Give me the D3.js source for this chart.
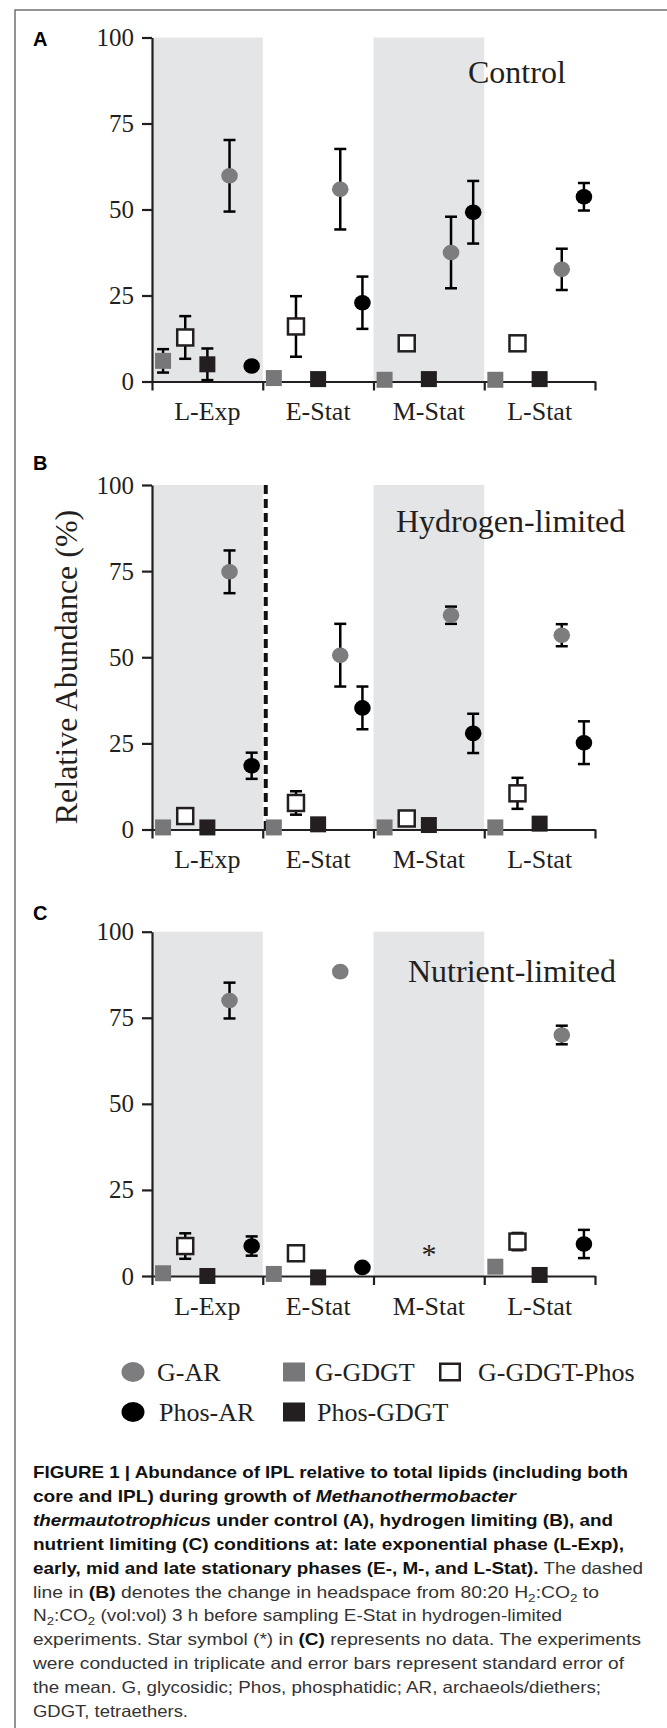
<!DOCTYPE html>
<html>
<head>
<meta charset="utf-8">
<script src="https://cdn.jsdelivr.net/npm/d3@7"></script>
<style>
  body { margin: 0; background: #fff; }
</style>
</head>
<body>
<div id="chart"></div>
<script>
// categories and series
const categories = ["L-Exp", "E-Stat", "M-Stat", "L-Stat"];
const series = ["G-GDGT", "G-GDGT-Phos", "Phos-GDGT", "G-AR", "Phos-AR"];
const shaded = ["L-Exp", "M-Stat"];
const yTicks = [0, 25, 50, 75, 100];

// rows follow series order, columns follow categories
const controlMean = [
  [6.0, 1.0, 0.5, 0.5],
  [12.8, 16.0, 11.1, 11.1],
  [5.0, 0.7, 0.7, 0.7],
  [59.8, 55.9, 37.5, 32.6],
  [4.5, 22.9, 49.2, 53.7]
];
const controlErr = [
  [3.4, 0, 0, 0],
  [6.2, 8.8, 0, 0],
  [4.6, 0, 0, 0],
  [10.4, 11.7, 10.4, 6.0],
  [0, 7.6, 9.1, 4.0]
];
const hydrogenMean = [
  [0.6, 0.6, 0.6, 0.6],
  [3.9, 7.7, 3.2, 10.5],
  [0.6, 1.5, 1.3, 1.7],
  [74.8, 50.6, 62.2, 56.4],
  [18.5, 35.3, 27.9, 25.2]
];
const hydrogenErr = [
  [0, 0, 0, 0],
  [0, 3.4, 0, 4.5],
  [0, 0, 0, 0],
  [6.2, 9.1, 2.5, 3.2],
  [3.8, 6.2, 5.7, 6.2]
];
const nutrientMean = [
  [0.8, 0.6, null, 2.7],
  [8.7, 6.6, null, 10.0],
  [0.0, -0.4, null, 0.3],
  [80.0, 88.4, null, 70.0],
  [8.7, 2.5, null, 9.3]
];
const nutrientErr = [
  [0, 0, null, 0],
  [3.7, 0, null, 2.5],
  [0, 0, null, 0],
  [5.2, 0, null, 2.7],
  [2.8, 0, null, 4.1]
];
// star = no data
const nutrientNoData = [{ cat: "M-Stat", value: 7.5 }];

const W = 667, H = 1728;
const serif = "'Liberation Serif', 'Times New Roman', serif";
const sans = "'Liberation Sans', Arial, sans-serif";
const ink = "#231f20";

// marker styles per series
const style = {
  "G-GDGT":      { shape: "square", fill: "#77777a", stroke: "none" },
  "G-GDGT-Phos": { shape: "square", fill: "#fff", stroke: ink },
  "Phos-GDGT":   { shape: "square", fill: ink, stroke: "none" },
  "G-AR":        { shape: "circle", fill: "#7d7d80", stroke: "none" },
  "Phos-AR":     { shape: "circle", fill: "#000", stroke: "none" }
};

const svg = d3.select("#chart").append("svg")
  .attr("width", W).attr("height", H);

// outer frame
svg.append("rect")
  .attr("x", 15).attr("y", 10).attr("width", 720).attr("height", 1740)
  .attr("fill", "none").attr("stroke", "#707070").attr("stroke-width", 1.5);

const X0 = 152, X1 = 595;
const x = d3.scaleBand().domain(categories).range([X0, X1]);
const xs = d3.scaleBand().domain(series).range([0, x.bandwidth()]);
const xb = d3.scaleLinear().domain([0, categories.length]).range([X0, X1]);

const panels = [
  { tag: "A", tagY: 46, title: "Control", titleX: 468, titleY: 83, top: 37.5, bottom: 381.5, mean: controlMean, err: controlErr },
  { tag: "B", tagY: 470, title: "Hydrogen-limited", titleX: 396, titleY: 532, top: 485, bottom: 829.5, mean: hydrogenMean, err: hydrogenErr, dashed: true },
  { tag: "C", tagY: 920, title: "Nutrient-limited", titleX: 408, titleY: 982, top: 931.7, bottom: 1276, mean: nutrientMean, err: nutrientErr, noData: nutrientNoData }
];

panels.forEach(function(p) {
  const g = svg.append("g");
  const y = d3.scaleLinear().domain([0, 100]).range([p.bottom, p.top]);

  // grey phase bands
  g.selectAll(".band").data(shaded).enter().append("rect")
    .attr("x", d => x(d)).attr("y", y(100))
    .attr("width", x.bandwidth()).attr("height", y(0) - y(100))
    .attr("fill", "#e4e5e7");

  // dashed line = headspace change
  if (p.dashed) {
    g.append("line")
      .attr("x1", x("E-Stat") + 3).attr("x2", x("E-Stat") + 3)
      .attr("y1", y(100)).attr("y2", y(0))
      .attr("stroke", "#111").attr("stroke-width", 4)
      .attr("stroke-dasharray", "9,5");
  }

  // y axis
  const yAxis = g.append("g")
    .attr("transform", "translate(" + X0 + ",0)")
    .call(d3.axisLeft(y).tickValues(yTicks).tickSize(10).tickSizeOuter(0).tickPadding(8));
  // x axis with ticks on the phase boundaries
  const xAxis = g.append("g")
    .attr("transform", "translate(0," + y(0) + ")")
    .call(d3.axisBottom(xb).tickValues(d3.range(categories.length + 1)).tickSize(9).tickSizeOuter(0).tickFormat(""));

  [yAxis, xAxis].forEach(function(a) {
    a.selectAll("path, line").attr("stroke", ink).attr("stroke-width", 2.2);
  });
  yAxis.selectAll("text")
    .attr("font-family", serif).attr("font-size", 25).attr("fill", ink);

  // category labels
  g.selectAll(".cat").data(categories).enter().append("text")
    .attr("x", d => x(d) + x.bandwidth() / 2)
    .attr("y", y(0) + 38.5)
    .attr("text-anchor", "middle")
    .attr("font-family", serif).attr("font-size", 26).attr("fill", ink)
    .text(d => d);

  // panel letter and condition
  g.append("text").attr("x", 33).attr("y", p.tagY)
    .attr("font-family", sans).attr("font-weight", "bold").attr("font-size", 20)
    .text(p.tag);
  g.append("text").attr("x", p.titleX).attr("y", p.titleY)
    .attr("font-family", serif).attr("font-size", 32).attr("fill", ink)
    .text(p.title);

  // flatten points
  const pts = [];
  series.forEach(function(s, i) {
    categories.forEach(function(c, j) {
      if (p.mean[i][j] === null) return;
      pts.push({ s: s, c: c, v: p.mean[i][j], e: p.err[i][j] });
    });
  });
  const cx = d => x(d.c) + xs(d.s) + xs.bandwidth() / 2;

  // error bars
  const eb = g.selectAll(".err").data(pts.filter(d => d.e > 0)).enter().append("g")
    .attr("stroke", "#000").attr("stroke-width", 2.5);
  eb.append("line").attr("x1", cx).attr("x2", cx)
    .attr("y1", d => y(d.v + d.e)).attr("y2", d => y(d.v - d.e));
  eb.append("line").attr("x1", d => cx(d) - 6).attr("x2", d => cx(d) + 6)
    .attr("y1", d => y(d.v + d.e)).attr("y2", d => y(d.v + d.e));
  eb.append("line").attr("x1", d => cx(d) - 6).attr("x2", d => cx(d) + 6)
    .attr("y1", d => y(d.v - d.e)).attr("y2", d => y(d.v - d.e));

  // markers
  g.selectAll(".sq").data(pts.filter(d => style[d.s].shape === "square")).enter().append("rect")
    .attr("x", d => cx(d) - 8).attr("y", d => y(d.v) - 8)
    .attr("width", 16).attr("height", 16)
    .attr("fill", d => style[d.s].fill)
    .attr("stroke", d => style[d.s].stroke).attr("stroke-width", 2.5);
  g.selectAll(".dot").data(pts.filter(d => style[d.s].shape === "circle")).enter().append("ellipse")
    .attr("cx", cx).attr("cy", d => y(d.v))
    .attr("rx", 8.3).attr("ry", 7.8)
    .attr("fill", d => style[d.s].fill);

  if (p.noData) {
    g.selectAll(".star").data(p.noData).enter().append("text")
      .attr("x", d => x(d.cat) + x.bandwidth() / 2)
      .attr("y", d => y(d.value) + 14)
      .attr("text-anchor", "middle")
      .attr("font-family", serif).attr("font-size", 30).attr("fill", ink)
      .text("*");
  }
});

// y axis title
svg.append("text")
  .attr("transform", "translate(77,667) rotate(-90)")
  .attr("text-anchor", "middle")
  .attr("font-family", serif).attr("font-size", 32).attr("fill", ink)
  .text("Relative Abundance (%)");

// legend
const legendItems = [
  { s: "G-AR", mx: 133, tx: 157, row: 0 },
  { s: "G-GDGT", mx: 294, tx: 315, row: 0 },
  { s: "G-GDGT-Phos", mx: 450, tx: 478, row: 0 },
  { s: "Phos-AR", mx: 133, tx: 159, row: 1 },
  { s: "Phos-GDGT", mx: 294, tx: 317, row: 1 }
];
const rowY = [1372, 1412];
const leg = svg.append("g");
legendItems.forEach(function(d) {
  const st = style[d.s], cy = rowY[d.row];
  if (st.shape === "circle") {
    leg.append("ellipse").attr("cx", d.mx).attr("cy", cy).attr("rx", 11.5).attr("ry", 10)
      .attr("fill", st.fill);
  } else {
    const sw = st.stroke === "none" ? 0 : 2.5;
    leg.append("rect").attr("x", d.mx - 11 + sw / 2).attr("y", cy - 9.5 + sw / 2)
      .attr("width", 22 - sw).attr("height", 19 - sw)
      .attr("fill", st.fill).attr("stroke", st.stroke).attr("stroke-width", sw);
  }
  leg.append("text").attr("x", d.tx).attr("y", cy + 9)
    .attr("font-family", serif).attr("font-size", 26).attr("fill", ink)
    .text(d.s);
});

// caption: each line is a list of [style, text]
const captionLines = [
  { w: 595, parts: [["b", "FIGURE 1 | Abundance of IPL relative to total lipids (including both"]] },
  { w: 483, parts: [["b", "core and IPL) during growth of "], ["bi", "Methanothermobacter"]] },
  { w: 580, parts: [["bi", "thermautotrophicus"], ["b", " under control (A), hydrogen limiting (B), and"]] },
  { w: 591, parts: [["b", "nutrient limiting (C) conditions at: late exponential phase (L-Exp),"]] },
  { w: 610, parts: [["b", "early, mid and late stationary phases (E-, M-, and L-Stat)."], ["n", " The dashed"]] },
  { w: 566, parts: [["n", "line in "], ["b", "(B)"], ["n", " denotes the change in headspace from 80:20 H"], ["sub", "2"], ["n", ":CO"], ["sub", "2"], ["n", " to"]] },
  { w: 529, parts: [["n", "N"], ["sub", "2"], ["n", ":CO"], ["sub", "2"], ["n", " (vol:vol) 3 h before sampling E-Stat in hydrogen-limited"]] },
  { w: 608, parts: [["n", "experiments. Star symbol (*) in "], ["b", "(C)"], ["n", " represents no data. The experiments"]] },
  { w: 591, parts: [["n", "were conducted in triplicate and error bars represent standard error of"]] },
  { w: 568, parts: [["n", "the mean. G, glycosidic; Phos, phosphatidic; AR, archaeols/diethers;"]] },
  { w: 155, parts: [["n", "GDGT, tetraethers."]] }
];
const cap = svg.append("g").attr("font-family", sans).attr("font-size", 16.5);
captionLines.forEach(function(line, i) {
  const t = cap.append("text")
    .attr("x", 33).attr("y", 1478 + i * 23.9)
    .attr("textLength", line.w).attr("lengthAdjust", "spacingAndGlyphs");
  let shifted = false;
  line.parts.forEach(function(pt) {
    const ts = t.append("tspan").text(pt[1]);
    if (pt[0] === "sub") {
      ts.attr("dy", 4).attr("font-size", 11.5).attr("fill", "#333");
      shifted = true;
      return;
    }
    if (shifted) { ts.attr("dy", -4); shifted = false; }
    if (pt[0] === "n") ts.attr("fill", "#333");
    else ts.attr("font-weight", "bold").attr("fill", "#111");
    if (pt[0] === "bi") ts.attr("font-style", "italic");
  });
});
</script>
</body>
</html>
